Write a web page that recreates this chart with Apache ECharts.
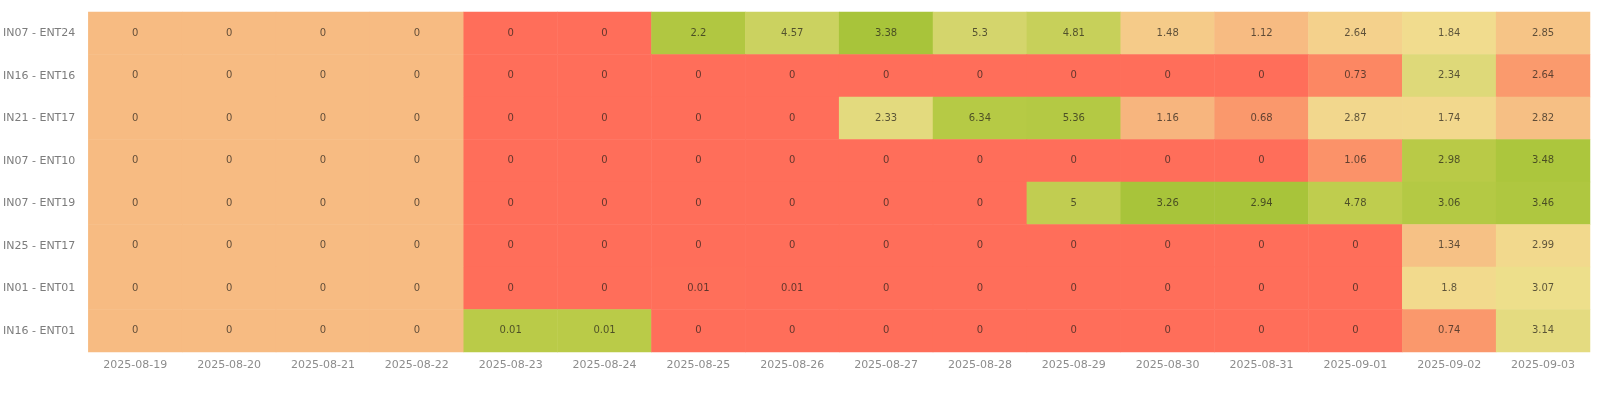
<!DOCTYPE html>
<html>
<head>
<meta charset="utf-8">
<script src="https://cdn.jsdelivr.net/npm/echarts@6/dist/echarts.min.js"></script>
<style>
html,body{margin:0;padding:0;background:#fff;}
#chart{width:1600px;height:409px;}
</style>
</head>
<body>
<div id="chart"></div>
<script>
var dates = ['2025-08-19','2025-08-20','2025-08-21','2025-08-22','2025-08-23','2025-08-24','2025-08-25','2025-08-26','2025-08-27','2025-08-28','2025-08-29','2025-08-30','2025-08-31','2025-09-01','2025-09-02','2025-09-03'];
var rows = ['IN07 - ENT24','IN16 - ENT16','IN21 - ENT17','IN07 - ENT10','IN07 - ENT19','IN25 - ENT17','IN01 - ENT01','IN16 - ENT01'];

var valIN07_ENT24 = [0,0,0,0,0,0,2.2,4.57,3.38,5.3,4.81,1.48,1.12,2.64,1.84,2.85];
var valIN16_ENT16 = [0,0,0,0,0,0,0,0,0,0,0,0,0,0.73,2.34,2.64];
var valIN21_ENT17 = [0,0,0,0,0,0,0,0,2.33,6.34,5.36,1.16,0.68,2.87,1.74,2.82];
var valIN07_ENT10 = [0,0,0,0,0,0,0,0,0,0,0,0,0,1.06,2.98,3.48];
var valIN07_ENT19 = [0,0,0,0,0,0,0,0,0,0,5,3.26,2.94,4.78,3.06,3.46];
var valIN25_ENT17 = [0,0,0,0,0,0,0,0,0,0,0,0,0,0,1.34,2.99];
var valIN01_ENT01 = [0,0,0,0,0,0,0.01,0.01,0,0,0,0,0,0,1.8,3.07];
var valIN16_ENT01 = [0,0,0,0,0.01,0.01,0,0,0,0,0,0,0,0,0.74,3.14];

// per-date colour-scale range (estimated full-column range)
var colorLow  = [0,0,0,0,0,0,0,0,0,0,0,0,0,0,0,2.37];
var colorHigh = [0,0,0,0,0.011,0.011,2.3,5.55,3.38,6.8,5.7,3.26,2.94,5.4,3.25,3.5];

var rowValues = [valIN07_ENT24,valIN16_ENT16,valIN21_ENT17,valIN07_ENT10,valIN07_ENT19,valIN25_ENT17,valIN01_ENT01,valIN16_ENT01];

// gradient stops
var stops = [[0,'#ff6e5a'],[0.15,'#fc8a64'],[0.25,'#fa9c6e'],[0.38,'#f7bb82'],[0.48,'#f4d08c'],[0.6,'#f0e08e'],[0.76,'#d8d672'],[0.9,'#bccc4a'],[1,'#a8c43a']];
function hex(c){return [parseInt(c.substr(1,2),16),parseInt(c.substr(3,2),16),parseInt(c.substr(5,2),16)];}
function sample(t){
  for(var i=1;i<stops.length;i++){
    if(t<=stops[i][0]){
      var a=stops[i-1],b=stops[i];var f=(t-a[0])/(b[0]-a[0]);
      var ca=hex(a[1]),cb=hex(b[1]);
      return 'rgb('+Math.round(ca[0]+(cb[0]-ca[0])*f)+','+Math.round(ca[1]+(cb[1]-ca[1])*f)+','+Math.round(ca[2]+(cb[2]-ca[2])*f)+')';
    }
  }
  return stops[stops.length-1][1];
}
var palette=[];for(var k=0;k<=100;k++){palette.push(sample(k/100));}

var data=[];
for(var r=0;r<rows.length;r++){
  for(var c=0;c<dates.length;c++){
    var v=rowValues[r][c];
    var lo=colorLow[c],hi=colorHigh[c];
    var t = hi>lo ? Math.max(0,Math.min(1,(v-lo)/(hi-lo))) : 0.38;
    data.push([c,r,v,t]);
  }
}

var chart=echarts.init(document.getElementById('chart'));
chart.setOption({
  animation:false,
  grid:{left:87,right:10,top:12,bottom:57},
  xAxis:{type:'category',data:dates,axisLine:{show:false},axisTick:{show:false},splitArea:{show:false},
    axisLabel:{interval:0,color:'#8c8c8c',fontSize:11,fontFamily:'DejaVu Sans',margin:8}},
  yAxis:{type:'category',data:rows,inverse:true,axisLine:{show:false},axisTick:{show:false},
    axisLabel:{color:'#7c7c7c',fontSize:11,fontFamily:'DejaVu Sans',margin:13}},
  visualMap:{show:false,type:'continuous',dimension:3,min:0,max:1,inRange:{color:palette}},
  series:[{type:'heatmap',data:data,
    label:{show:true,fontSize:10,fontFamily:'DejaVu Sans',color:'rgba(35,30,25,0.72)',formatter:function(p){return p.value[2];}},
    itemStyle:{borderWidth:0},
    emphasis:{disabled:true}
  }]
});
</script>
</body>
</html>
